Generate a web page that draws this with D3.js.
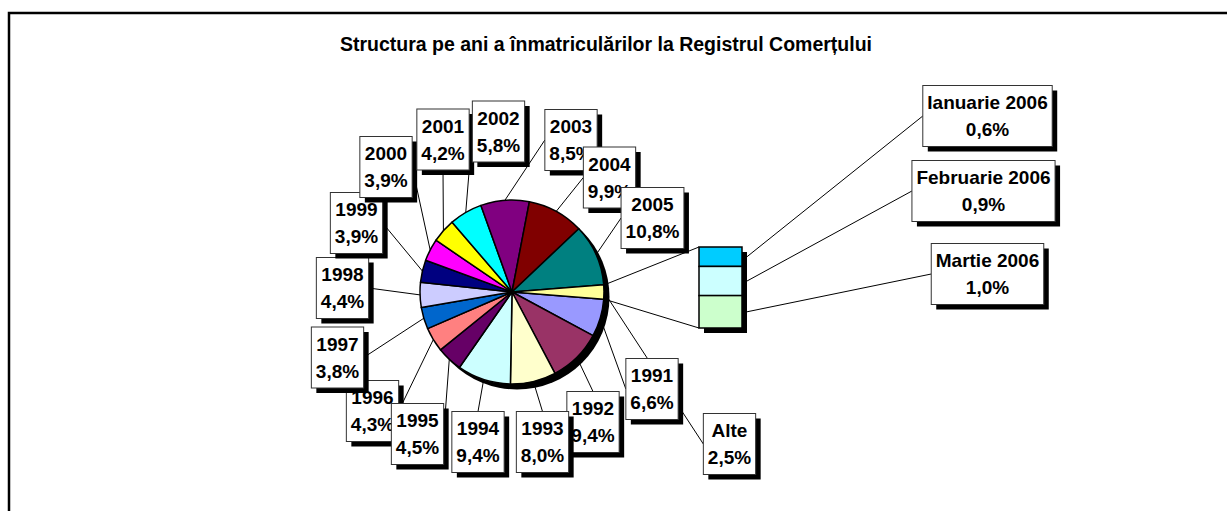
<!DOCTYPE html>
<html>
<head>
<meta charset="utf-8">
<script src="https://cdn.jsdelivr.net/npm/d3@7"></script>
<style>
  body { margin: 0; background: #fff; }
  text { font-family: Arial, "Liberation Sans", sans-serif; font-weight: bold; fill: #000; }
</style>
</head>
<body>
<div class="content"></div>
<script>
// values
var title = "Structura pe ani a înmatriculărilor la Registrul Comerțului";
var years = ["1991", "1992", "1993", "1994", "1995", "1996", "1997", "1998",
             "1999", "2000", "2001", "2002", "2003", "2004", "2005", "Alte"];
var shares = [6.6, 9.4, 8.0, 9.4, 4.5, 4.3, 3.8, 4.4, 3.9, 3.9, 4.2, 5.8, 8.5, 9.9, 10.8, 2.5];
var sliceColors = ["#9999ff", "#993366", "#ffffcc", "#ccffff", "#660066", "#ff8080", "#0066cc", "#ccccff",
                   "#000080", "#ff00ff", "#ffff00", "#00ffff", "#800080", "#800000", "#008080", "#ffff99"];
var months = ["Ianuarie 2006", "Februarie 2006", "Martie 2006"];
var monthShares = [0.6, 0.9, 1.0];
var monthColors = ["#00ccff", "#ccffff", "#ccffcc"];

// label box centres (placed by hand like the original), relative to the pie centre
var labelOffsets = [[140, 97], [81, 130], [30.5, 150], [-34, 150], [-94.5, 142], [-139.5, 119],
                    [-174.5, 65.5], [-169.5, -4], [-155.5, -69], [-126, -125], [-69, -152.5],
                    [-13.5, -160.5], [59, -152], [97.5, -114.5], [140.5, -74], [217.5, 152]];
var monthLabelPos = [[987.5, 116], [983.5, 191], [987.5, 274]];

var width = 1227, height = 511;
var cx = 512, cy = 292, r = 92;
var barX = 699, barW = 43, barTop = 247, barBottom = 328;

var fmt = function(v) { return d3.format(".1f")(v).replace(".", ",") + "%"; };

var svg = d3.select(".content")
    .append("svg")
    .attr("width", width)
    .attr("height", height);

// outer frame
svg.append("rect")
    .attr("x", 9).attr("y", 13)
    .attr("width", width + 20).attr("height", height + 20)
    .attr("fill", "none")
    .attr("stroke", "#000")
    .attr("stroke-width", 2.5);

svg.append("text")
    .attr("x", 606).attr("y", 51)
    .attr("text-anchor", "middle")
    .style("font-size", "19.5px")
    .text(title);

// pie
var total = d3.sum(shares);
var other = shares[shares.length - 1];
var start = Math.PI / 2 + Math.PI * other / total;   // "Alte" centred at 3 o'clock
var pie = d3.pie().sort(null).startAngle(start).endAngle(start + 2 * Math.PI);
var arcs = pie(shares);
var arc = d3.arc().innerRadius(0).outerRadius(r);

function edgePoint(a, rad) {
    return [cx + Math.sin(a) * rad, cy - Math.cos(a) * rad];
}

var gPie = svg.append("g").attr("transform", "translate(" + cx + "," + cy + ")");
gPie.append("circle")
    .attr("cx", 5).attr("cy", 5).attr("r", r + 0.5)
    .attr("fill", "#000");
gPie.selectAll("path")
    .data(arcs)
    .enter()
    .append("path")
    .attr("d", arc)
    .attr("fill", function(d, i) { return sliceColors[i]; })
    .attr("stroke", "#000")
    .attr("stroke-width", 1.5)
    .attr("stroke-linejoin", "round");

// bar of the "Alte" slice
var yBar = d3.scaleLinear().domain([0, d3.sum(monthShares)]).range([barTop, barBottom]);
var monthStarts = monthShares.map(function(v, i) { return d3.sum(monthShares.slice(0, i)); });

var lines = svg.append("g")
    .attr("fill", "none")
    .attr("stroke", "#000")
    .attr("stroke-width", 1);

var alteArc = arcs[arcs.length - 1];
var p1 = edgePoint(alteArc.startAngle, r + 1);
var p2 = edgePoint(alteArc.endAngle, r + 1);
lines.append("line").attr("x1", p1[0]).attr("y1", p1[1]).attr("x2", barX).attr("y2", yBar(0));
lines.append("line").attr("x1", p2[0]).attr("y1", p2[1]).attr("x2", barX).attr("y2", yBar(d3.sum(monthShares)));

var gBar = svg.append("g");
gBar.append("rect")
    .attr("x", barX + 5).attr("y", yBar(0) + 5)
    .attr("width", barW).attr("height", yBar(d3.sum(monthShares)) - yBar(0))
    .attr("fill", "#000");
gBar.selectAll(".seg")
    .data(monthShares)
    .enter()
    .append("rect")
    .attr("class", "seg")
    .attr("x", barX)
    .attr("y", function(d, i) { return yBar(monthStarts[i]); })
    .attr("width", barW)
    .attr("height", function(d) { return yBar(d) - yBar(0); })
    .attr("fill", function(d, i) { return monthColors[i]; })
    .attr("stroke", "#000")
    .attr("stroke-width", 1.5);

// labels
var labelLayer = svg.append("g");

function drawLabel(x, y, line1, line2) {
    var g = labelLayer.append("g");
    var t1 = g.append("text").attr("x", x).attr("y", y - 7)
        .attr("text-anchor", "middle").style("font-size", "19px").text(line1);
    var t2 = g.append("text").attr("x", x).attr("y", y + 20)
        .attr("text-anchor", "middle").style("font-size", "19px").text(line2);
    var w = Math.max(t1.node().getComputedTextLength(), t2.node().getComputedTextLength()) + 9;
    var h = 61;
    g.insert("rect", "text")
        .attr("x", x - w / 2 + 5).attr("y", y - h / 2 + 5)
        .attr("width", w).attr("height", h)
        .attr("fill", "#000");
    g.insert("rect", "text")
        .attr("x", x - w / 2).attr("y", y - h / 2)
        .attr("width", w).attr("height", h)
        .attr("fill", "#fff")
        .attr("stroke", "#333")
        .attr("stroke-width", 1);
    return {g: g, x0: x - w / 2, x1: x + w / 2, y0: y - h / 2, y1: y + h / 2};
}

function anchor(p, b) {
    var mx = (b.x0 + b.x1) / 2, my = (b.y0 + b.y1) / 2;
    if (p[0] < b.x0) return [b.x0, my];
    if (p[0] > b.x1) return [b.x1, my];
    if (p[1] < b.y0) return [mx, b.y0];
    return [mx, b.y1];
}

var boxes = arcs.map(function(d, i) {
    var b = drawLabel(cx + labelOffsets[i][0], cy + labelOffsets[i][1], years[i], fmt(shares[i]));
    var p = edgePoint((d.startAngle + d.endAngle) / 2, r);
    var a = anchor(p, b);
    lines.append("line").attr("x1", p[0]).attr("y1", p[1]).attr("x2", a[0]).attr("y2", a[1]);
    return b;
});
boxes[4].g.raise();   // 1995 sits over 1996 in the original

monthShares.forEach(function(v, i) {
    var b = drawLabel(monthLabelPos[i][0], monthLabelPos[i][1], months[i], fmt(v));
    var yMid = (yBar(monthStarts[i]) + yBar(monthStarts[i] + v)) / 2;
    lines.append("line")
        .attr("x1", barX + barW + 5).attr("y1", yMid)
        .attr("x2", b.x0).attr("y2", (b.y0 + b.y1) / 2);
});
</script>
</body>
</html>
